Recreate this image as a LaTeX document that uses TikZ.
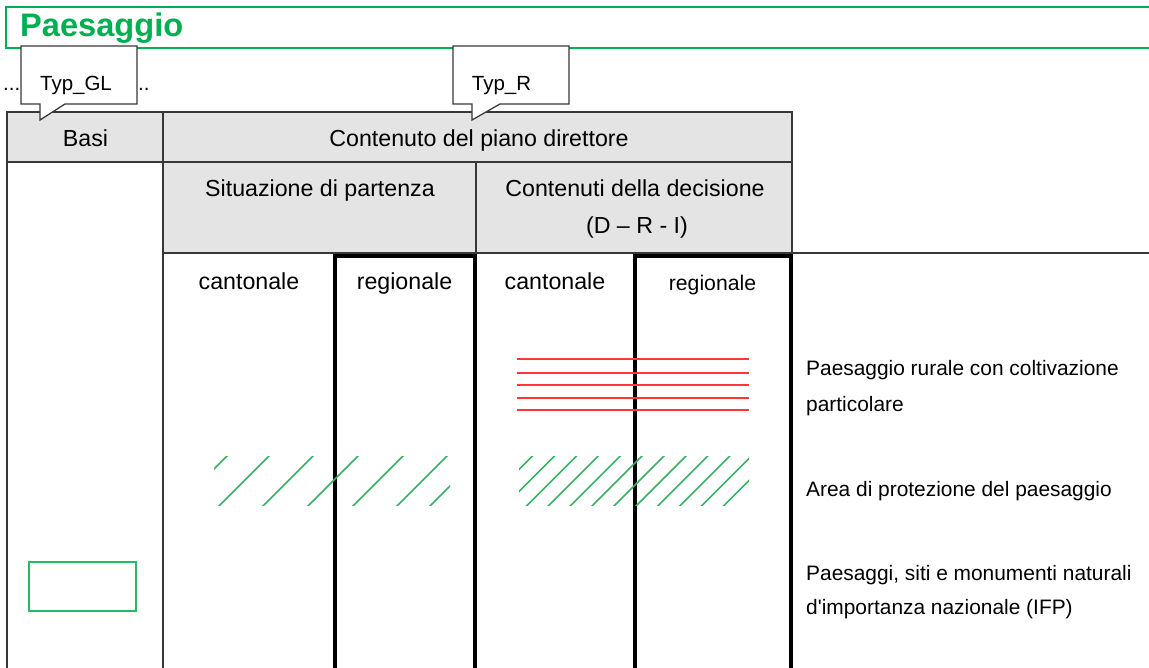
\documentclass[tikz,border=0pt]{standalone}
\usepackage{fontspec}
\setmainfont{Liberation Sans}
\definecolor{titlegreen}{RGB}{0,176,80}
\definecolor{hatchgreen}{RGB}{55,178,100}
\definecolor{boxgreen}{RGB}{40,185,100}
\definecolor{redline}{RGB}{255,55,55}
\definecolor{headgray}{RGB}{228,228,228}
\definecolor{rulecol}{RGB}{55,55,55}
\begin{document}
\begin{tikzpicture}[x=1pt,y=-1pt,
  thinrule/.style={draw=rulecol,line width=1.3pt},
  thickrule/.style={draw=black,line width=4pt},
  hdr/.style={inner sep=0pt,anchor=base,font=\fontsize{23.2}{28}\selectfont},
  smallhdr/.style={inner sep=0pt,anchor=base,font=\fontsize{21.2}{26}\selectfont},
  legend/.style={inner sep=0pt,anchor=base west,font=\fontsize{20.9}{25}\selectfont},
  calltxt/.style={inner sep=0pt,anchor=base,font=\fontsize{20.5}{25}\selectfont},
  callout/.style={draw=rulecol,fill=white,line width=1.3pt,line join=miter},
  hatch/.style={draw=hatchgreen,line width=1.6pt},
  redstripe/.style={draw=redline,line width=1.8pt}]
\useasboundingbox (0,0) rectangle (1149,668);
% header fills
\fill[headgray] (7,112) rectangle (792,162);
\fill[headgray] (163,162) rectangle (792,253);
% thin table rules
\draw[thinrule] (7,700) -- (7,112) -- (792,112) -- (792,253);
\draw[thinrule] (163,112) -- (163,700);
\draw[thinrule] (7,162) -- (792,162);
\draw[thinrule] (476,162) -- (476,253);
\draw[thinrule] (163,253) -- (1160,253);
% title box
\draw[titlegreen,line width=2pt] (6,7) rectangle (1170,48);
\node[inner sep=0pt,anchor=base west,text=titlegreen,font=\fontsize{32.6}{36}\selectfont\bfseries] (title) at (20,37) {Paesaggio};
% dotted leaders behind the callouts
\node[calltxt,anchor=base west] (dotsl) at (3,90.5) {...};
\node[calltxt,anchor=base west] (dotsr) at (138,90.5) {..};
% callouts
\draw[callout] (21,46) -- (137,46) -- (137,104) -- (65,104) -- (40,120) -- (40,104) -- (21,104) -- cycle;
\node[calltxt] (typgl) at (76,90.5) {Typ\_GL};
\draw[callout] (453,46) -- (569,46) -- (569,104) -- (500,104) -- (472,120) -- (472,104) -- (453,104) -- cycle;
\node[calltxt] (typr) at (501.5,90.5) {Typ\_R};
% header texts
\node[hdr] (basi) at (85.5,147) {Basi};
\node[hdr] (contenuto) at (479,147) {Contenuto del piano direttore};
\node[hdr] (situazione) at (320,197) {Situazione di partenza};
\node[hdr] (decisione) at (635,197) {Contenuti della decisione};
\node[hdr] (dri) at (637,233.5) {(D – R - I)};
\node[hdr] (cant1) at (249,290) {cantonale};
\node[hdr] (reg1) at (404.5,290) {regionale};
\node[hdr] (cant2) at (555,290) {cantonale};
\node[smallhdr] (reg2) at (712.5,291) {regionale};
% thick boxes
\draw[thickrule] (335,700) -- (335,256) -- (475,256) -- (475,700);
\draw[thickrule] (634.5,700) -- (634.5,256) -- (791,256) -- (791,700);
% red stripes
\foreach \yy in {358.7,373,384.7,398,409.7}
  \draw[redstripe] (517,\yy) -- (749,\yy);
% green hatching
\begin{scope}
  \clip (214,456) rectangle (450,505);
  \foreach \c in {683,725,769,814,859,903,936}
    \draw[hatch] (\c-510,510) -- (\c-451,451);
\end{scope}
\begin{scope}
  \clip (519,456) rectangle (749,505);
  \foreach \k in {0,...,11}
    \draw[hatch] (988.6+21.9*\k-510,510) -- (988.6+21.9*\k-451,451);
\end{scope}
% IFP symbol
\draw[boxgreen,line width=1.6pt] (29,562) rectangle (136,611);
% legend
\node[legend] (leg1a) at (806,376) {Paesaggio rurale con coltivazione};
\node[legend] (leg1b) at (806,411) {particolare};
\node[legend] (leg2) at (806,496) {Area di protezione del paesaggio};
\node[legend] (leg3a) at (806,580) {Paesaggi, siti e monumenti naturali};
\node[legend] (leg3b) at (806,614.5) {d\textquotesingle importanza nazionale (IFP)};
\end{tikzpicture}
\end{document}
